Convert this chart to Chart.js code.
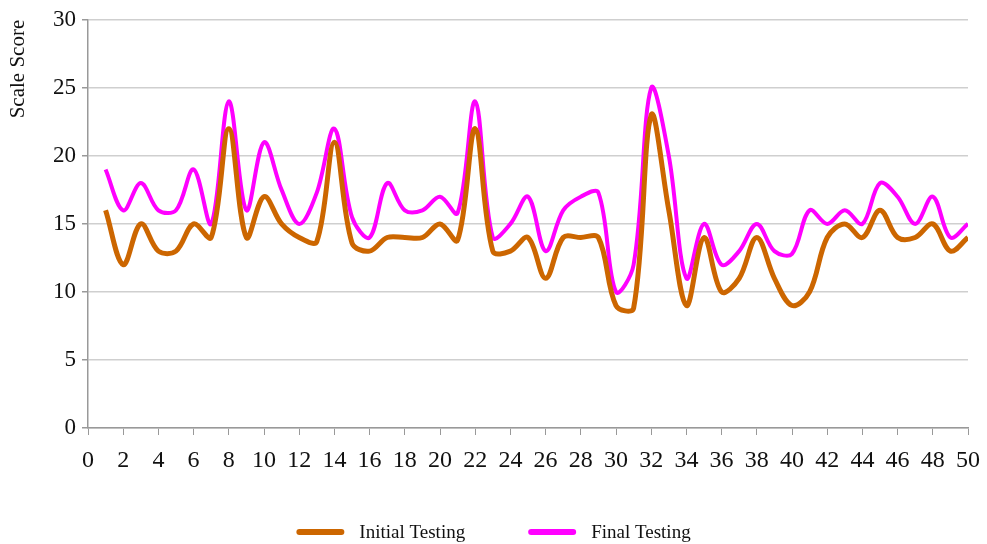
<!DOCTYPE html>
<html>
<head>
<meta charset="utf-8">
<title>Scale Score</title>
<script src="https://cdn.jsdelivr.net/npm/chart.js@4/dist/chart.umd.min.js"></script>
<style>
  html, body { margin: 0; padding: 0; background: #fff; }
  #wrap { width: 987px; height: 544px; }
</style>
</head>
<body>
<div id="wrap"><canvas id="grafico" width="987" height="544"></canvas></div>
<script>
const participantes = [1,2,3,4,5,6,7,8,9,10,11,12,13,14,15,16,17,18,19,20,21,22,23,24,25,
  26,27,28,29,30,31,32,33,34,35,36,37,38,39,40,41,42,43,44,45,46,47,48,49,50];
const inicial = [16,12,15,13,13,15,14,22,14,17,15,14,13.7,21,13.6,13,14,14,14,15,13.8,22,13,13,14,
  11,14,14,14,9,8.8,23,16,9,14,10,11,14,11,9,10,14,15,14,16,14,14,15,13,14];
const final = [19,16,18,16,16,19,15,24,16,21,17.5,15,17.3,22,15.5,14,18,16,16,17,15.8,24,14,15,17,
  13,16,17,17.3,10,12,25,20,11,15,12,13,15,13,12.8,16,15,16,15,18,17,15,17,14,15];
const yTicks = { min: 0, max: 30, step: 5 };
const xTicks = { min: 0, max: 50, step: 2 };

const serif = "'Liberation Serif', 'Times New Roman', serif";

const leyendaAbajo = {
  id: "leyendaAbajo",
  afterDraw(chart) {
    const ctx = chart.ctx;
    const y = chart.height - 12;
    const caja = 48, hueco = 15, sep = 63;
    ctx.save();
    ctx.font = "19px " + serif;
    const items = chart.data.datasets.map(d => ({
      label: d.label, color: d.borderColor, w: ctx.measureText(d.label).width
    }));
    let total = 0;
    items.forEach((it, i) => { total += caja + hueco + it.w + (i ? sep : 0); });
    let x = chart.width / 2 - total / 2;
    items.forEach(it => {
      ctx.strokeStyle = it.color;
      ctx.lineWidth = 6;
      ctx.lineCap = "round";
      ctx.beginPath();
      ctx.moveTo(x + 3, y);
      ctx.lineTo(x + caja - 3, y);
      ctx.stroke();
      ctx.fillStyle = "#111";
      ctx.textBaseline = "middle";
      ctx.fillText(it.label, x + caja + hueco, y + 1);
      x += caja + hueco + it.w + sep;
    });
    ctx.restore();
  }
};

new Chart(document.getElementById("grafico"), {
  type: "line",
  data: {
    datasets: [
      {
        label: "Initial Testing",
        data: participantes.map((p, i) => ({ x: p, y: inicial[i] })),
        borderColor: "#CC6600",
        backgroundColor: "#CC6600",
        borderWidth: 5,
        pointRadius: 0,
        tension: 0.35
      },
      {
        label: "Final Testing",
        data: participantes.map((p, i) => ({ x: p, y: final[i] })),
        borderColor: "#FF00FF",
        backgroundColor: "#FF00FF",
        borderWidth: 4,
        pointRadius: 0,
        tension: 0.35
      }
    ]
  },
  options: {
    responsive: false,
    animation: false,
    layout: { padding: { left: 0, right: 19, top: 18, bottom: 66 } },
    plugins: { legend: { display: false }, tooltip: { enabled: false } },
    scales: {
      x: {
        type: "linear",
        min: xTicks.min,
        max: xTicks.max,
        afterFit: s => { s.height = 50; s.paddingLeft = 0; s.paddingRight = 0; },
        border: { color: "#999", width: 1.5 },
        grid: { drawOnChartArea: false, tickLength: 7, tickColor: "#999" },
        ticks: { stepSize: xTicks.step, padding: 11, color: "#111", font: { family: serif, size: 24 } }
      },
      y: {
        min: yTicks.min,
        max: yTicks.max,
        afterFit: s => { s.width = 88; },
        border: { color: "#999", width: 1.5 },
        grid: { color: "#cfcfcf", lineWidth: 1.5, tickLength: 6, tickColor: "#999" },
        ticks: { stepSize: yTicks.step, padding: 6, color: "#111", font: { family: serif, size: 23 } },
        title: {
          display: true,
          text: "Scale Score",
          align: "end",
          color: "#111",
          padding: { top: 6, bottom: 0 },
          font: { family: serif, size: 21 }
        }
      }
    }
  },
  plugins: [leyendaAbajo]
});
</script>
</body>
</html>
